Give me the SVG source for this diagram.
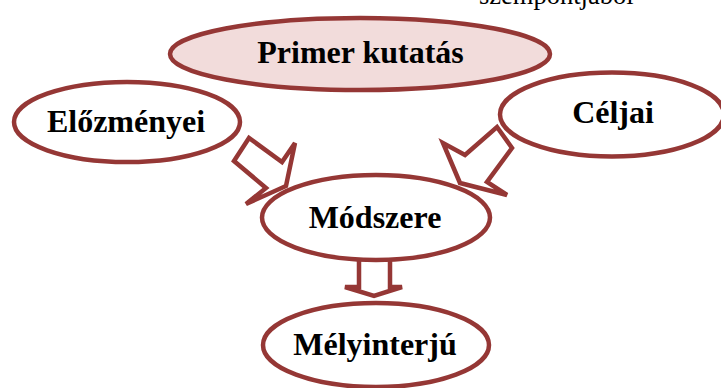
<svg xmlns="http://www.w3.org/2000/svg" width="721" height="388" viewBox="0 0 721 388">
  <style>
    .node { fill: #ffffff; stroke: #953735; stroke-width: 4.5; }
    .root { fill: #f2dcdb; }
    .label { font-family: "Liberation Serif", "Times New Roman", serif; font-weight: bold; font-size: 32px; fill: #000000; text-anchor: middle; }
    .arrow { fill: #ffffff; stroke: #953735; stroke-width: 4.5; stroke-linejoin: miter; }
    .caption { font-family: "Liberation Serif", "Times New Roman", serif; font-size: 26.5px; fill: #000000; }
  </style>
  <rect width="721" height="388" fill="#ffffff"/>

  <!-- partial caption at the top edge -->
  <text class="caption" x="479" y="3.5">szempontjaból</text>

  <!-- block arrows -->
  <g id="connectors">
    <polygon class="arrow" points="234,161 249,138 282,162 295,143 286,186 246,204 266,188"/>
    <polygon class="arrow" points="497,127 512,148 487,182 507,195 460,183 443,143 465,155"/>
    <polygon class="arrow" points="359,250 359,287 345,287 374,296 402,287 390,287 390,250"/>
  </g>

  <g id="primer">
    <ellipse class="node root" cx="360" cy="54" rx="190" ry="36"/>
    <text class="label" x="360.5" y="63">Primer kutatás</text>
  </g>

  <g id="elozmenyei">
    <ellipse class="node" cx="127" cy="122" rx="113" ry="40"/>
    <text class="label" x="126" y="132">Előzményei</text>
  </g>

  <g id="celjai">
    <ellipse class="node" cx="612" cy="114.5" rx="112" ry="42"/>
    <text class="label" x="613" y="123">Céljai</text>
  </g>

  <g id="modszere">
    <ellipse class="node" cx="376" cy="217.5" rx="114" ry="42.5"/>
    <text class="label" x="375" y="228">Módszere</text>
  </g>

  <g id="melyinterju">
    <ellipse class="node" cx="376" cy="345" rx="113" ry="42"/>
    <text class="label" x="375" y="355">Mélyinterjú</text>
  </g>
</svg>
